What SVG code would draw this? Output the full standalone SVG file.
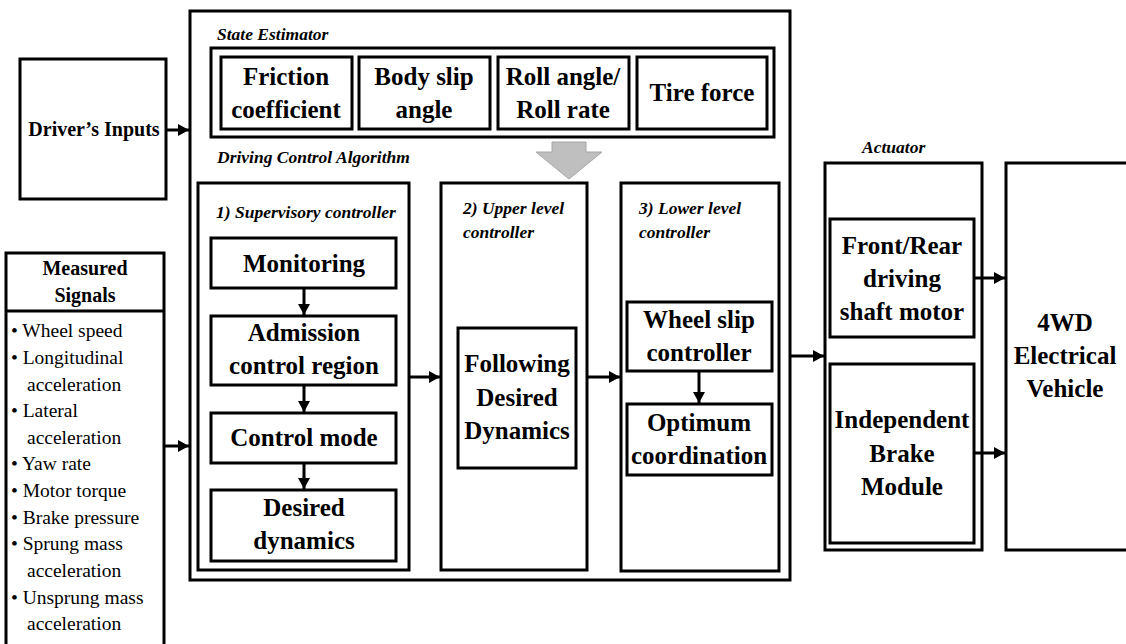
<svg xmlns="http://www.w3.org/2000/svg" width="1126" height="644" viewBox="0 0 1126 644">
<defs>
<marker id="ah" markerUnits="userSpaceOnUse" markerWidth="12" markerHeight="12" refX="11" refY="6" orient="auto">
<path d="M0,0 L11,6 L0,12 z" fill="#000"/>
</marker>
<style>
text{font-family:'Liberation Serif','Times New Roman','DejaVu Serif',serif;fill:#000}
.box{fill:#fff;stroke:#000;stroke-width:3}
.t{font-weight:bold;font-size:25px;text-anchor:middle}
.s{font-weight:bold;font-size:20px;text-anchor:middle}
.i{font-weight:bold;font-style:italic;font-size:17.5px}
.l{font-size:19.5px}
.c{stroke:#000;stroke-width:3;fill:none;marker-end:url(#ah)}
</style>
</defs>
<rect width="1126" height="644" fill="#fff"/>

<g id="driver-inputs">
<rect class="box" x="20" y="59" width="146" height="140"/>
<text class="s" x="94" y="136">Driver’s Inputs</text>
</g>

<g id="measured-signals">
<rect class="box" x="6" y="253" width="158" height="410"/>
<line x1="6" y1="311" x2="164" y2="311" stroke="#000" stroke-width="3"/>
<text class="s" x="85" y="275">Measured</text>
<text class="s" x="85" y="302">Signals</text>
<text class="l" x="11" y="337">• Wheel speed</text>
<text class="l" x="11" y="364">• Longitudinal</text>
<text class="l" x="27" y="391">acceleration</text>
<text class="l" x="11" y="417">• Lateral</text>
<text class="l" x="27" y="444">acceleration</text>
<text class="l" x="11" y="470">• Yaw rate</text>
<text class="l" x="11" y="497">• Motor torque</text>
<text class="l" x="11" y="524">• Brake pressure</text>
<text class="l" x="11" y="550">• Sprung mass</text>
<text class="l" x="27" y="577">acceleration</text>
<text class="l" x="11" y="604">• Unsprung mass</text>
<text class="l" x="27" y="630">acceleration</text>
</g>

<g id="main-controller">
<rect class="box" x="190" y="11" width="600" height="569"/>
<text class="i" x="217" y="40">State Estimator</text>
<text class="i" x="217" y="163">Driving Control Algorithm</text>
</g>

<g id="state-estimator">
<rect class="box" x="211" y="48" width="563" height="89"/>
</g>
<g id="friction">
<rect class="box" x="221" y="57" width="131" height="72"/>
<text class="t" x="286" y="85">Friction</text>
<text class="t" x="286" y="118">coefficient</text>
</g>
<g id="body-slip">
<rect class="box" x="359" y="57" width="131" height="72"/>
<text class="t" x="424" y="85">Body slip</text>
<text class="t" x="424" y="118">angle</text>
</g>
<g id="roll">
<rect class="box" x="498" y="57" width="131" height="72"/>
<text class="t" x="563" y="85">Roll angle/</text>
<text class="t" x="563" y="118">Roll rate</text>
</g>
<g id="tire-force">
<rect class="box" x="637" y="57" width="130" height="72"/>
<text class="t" x="702" y="101">Tire force</text>
</g>

<g id="estimator-arrow">
<path d="M552,142 L586,142 L586,152 L602,152 L569,179 L536,152 L552,152 z" fill="#bfbfbf" stroke="#a6a6a6" stroke-width="1"/>
</g>

<g id="supervisory">
<rect class="box" x="198" y="183" width="211" height="387"/>
<text class="i" x="216" y="218">1) Supervisory controller</text>
</g>
<g id="monitoring">
<rect class="box" x="211" y="238" width="185" height="50"/>
<text class="t" x="304" y="272">Monitoring</text>
</g>
<g id="admission">
<rect class="box" x="211" y="316" width="185" height="69"/>
<text class="t" x="304" y="341">Admission</text>
<text class="t" x="304" y="374">control region</text>
</g>
<g id="control-mode">
<rect class="box" x="211" y="413" width="185" height="50"/>
<text class="t" x="304" y="446">Control mode</text>
</g>
<g id="desired-dynamics">
<rect class="box" x="211" y="490" width="185" height="71"/>
<text class="t" x="304" y="516">Desired</text>
<text class="t" x="304" y="549">dynamics</text>
</g>

<g id="upper-level">
<rect class="box" x="441" y="183" width="146" height="387"/>
<text class="i" x="463" y="214">2) Upper level</text>
<text class="i" x="463" y="238">controller</text>
</g>
<g id="following">
<rect class="box" x="458" y="328" width="118" height="140"/>
<text class="t" x="517" y="372">Following</text>
<text class="t" x="517" y="406">Desired</text>
<text class="t" x="517" y="439">Dynamics</text>
</g>

<g id="lower-level">
<rect class="box" x="621" y="183" width="158" height="388"/>
<text class="i" x="639" y="214">3) Lower level</text>
<text class="i" x="639" y="238">controller</text>
</g>
<g id="wheel-slip">
<rect class="box" x="627" y="302" width="145" height="69"/>
<text class="t" x="699" y="328">Wheel slip</text>
<text class="t" x="699" y="361">controller</text>
</g>
<g id="optimum">
<rect class="box" x="627" y="404" width="145" height="71"/>
<text class="t" x="699" y="431">Optimum</text>
<text class="t" x="699" y="464">coordination</text>
</g>

<g id="actuator">
<rect class="box" x="825" y="163" width="157" height="387"/>
<text class="i" x="862" y="153">Actuator</text>
</g>
<g id="front-rear">
<rect class="box" x="830" y="219" width="144" height="118"/>
<text class="t" x="902" y="254">Front/Rear</text>
<text class="t" x="902" y="287">driving</text>
<text class="t" x="902" y="320">shaft motor</text>
</g>
<g id="brake">
<rect class="box" x="830" y="364" width="144" height="179"/>
<text class="t" x="902" y="428">Independent</text>
<text class="t" x="902" y="462">Brake</text>
<text class="t" x="902" y="495">Module</text>
</g>

<g id="vehicle">
<rect class="box" x="1006" y="163" width="125" height="387"/>
<text class="t" x="1065" y="331">4WD</text>
<text class="t" x="1065" y="364">Electrical</text>
<text class="t" x="1065" y="397">Vehicle</text>
</g>

<g id="connectors">
<line class="c" x1="166" y1="130" x2="189" y2="130"/>
<line class="c" x1="164" y1="446" x2="189" y2="446"/>
<line class="c" x1="304" y1="289" x2="304" y2="315"/>
<line class="c" x1="304" y1="386" x2="304" y2="412"/>
<line class="c" x1="304" y1="464" x2="304" y2="489"/>
<line class="c" x1="410" y1="377" x2="440" y2="377"/>
<line class="c" x1="588" y1="377" x2="620" y2="377"/>
<line class="c" x1="699" y1="372" x2="699" y2="403"/>
<line class="c" x1="791" y1="356" x2="824" y2="356"/>
<line class="c" x1="975" y1="278" x2="1005" y2="278"/>
<line class="c" x1="975" y1="453" x2="1005" y2="453"/>
</g>
</svg>
